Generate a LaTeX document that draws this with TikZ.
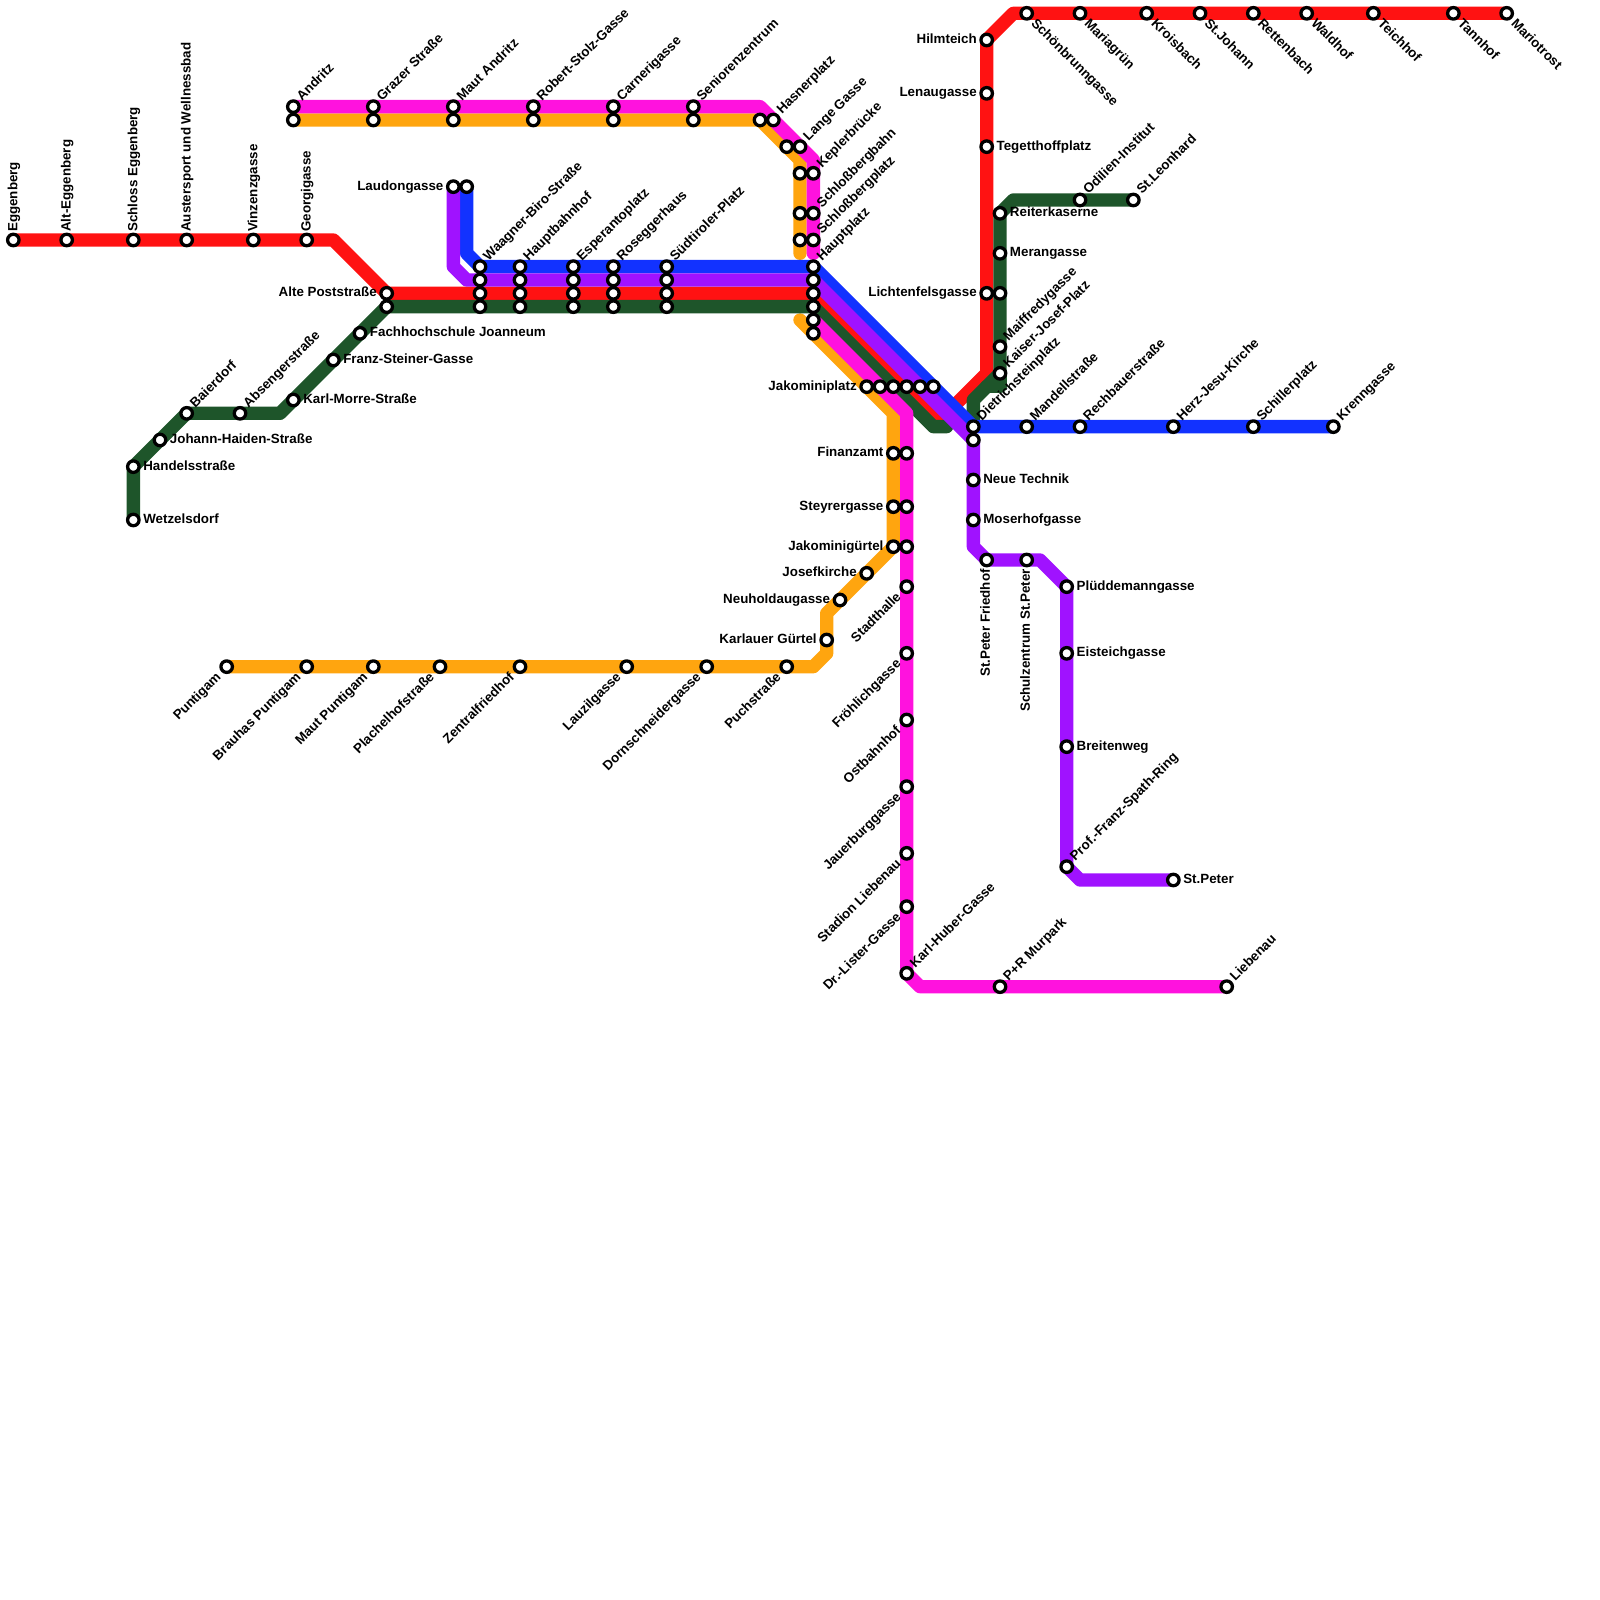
\documentclass[tikz,border=0pt]{standalone}
\usepackage{fontspec}
\setmainfont{Liberation Sans}
\usetikzlibrary{backgrounds,positioning}
\definecolor{linered}{RGB}{255,18,18}
\definecolor{linegreen}{RGB}{30,85,42}
\definecolor{lineorange}{RGB}{255,165,15}
\definecolor{linepink}{RGB}{255,18,222}
\definecolor{linepurple}{RGB}{160,18,255}
\definecolor{lineblue}{RGB}{18,50,255}

\begin{document}
\begin{tikzpicture}[
  x=0.2cm, y=-0.2cm,
  stn/.style={circle,draw=black,fill=white,line width=1.4pt,minimum size=4.9pt,inner sep=0pt},
  lab/.style={font=\bfseries\fontsize{5.7}{6}\selectfont,inner sep=0pt,outer sep=0pt,
    text height=4.1pt,text depth=1pt,text=black},
  stnr/.style={stn,label={[lab,anchor=west,label distance=1.1pt]0:#1}},
  stnl/.style={stn,label={[lab,anchor=east,label distance=1.1pt]180:#1}},
  stnne/.style={stn,label={[lab,xshift=0.4pt,rotate=45,anchor=west,label distance=1.1pt]45:#1}},
  stnse/.style={stn,label={[lab,xshift=0.5pt,yshift=-0.2pt,rotate=-45,anchor=west,label distance=1.1pt]-45:#1}},
  stnsw/.style={stn,label={[lab,xshift=-1.05pt,yshift=-0.4pt,rotate=45,anchor=east,label distance=1.1pt]225:#1}},
  stnup/.style={stn,label={[lab,xshift=1.28pt,yshift=0.4pt,rotate=90,anchor=west,label distance=1.1pt]90:#1}},
  stndn/.style={stn,label={[lab,xshift=-1.28pt,yshift=-0.8pt,rotate=90,anchor=east,label distance=1.1pt]270:#1}},
  metro/.style={line width=2mm,line cap=round,line join=round},
]
\useasboundingbox (0,0) rectangle (120,120);

% west red branch
\node[stnup={Eggenberg}] (eggenberg) at (1,18) {};
\node[stnup={Alt-Eggenberg}] (alteggenberg) at (5,18) {};
\node[stnup={Schloss Eggenberg}] (schloss) at (10,18) {};
\node[stnup={Austersport und Wellnessbad}] (austersport) at (14,18) {};
\node[stnup={Vinzenzgasse}] (vinzenz) at (19,18) {};
\node[stnup={Georgigasse}] (georgi) at (23,18) {};
\node[stnl={Alte Poststraße}] (altepost) at (29,22) {};
\node[stn] (altepostg) at (29,23) {};

% west green branch
\node[stnr={Wetzelsdorf}] (wetzelsdorf) at (10,39) {};
\node[stnr={Handelsstraße}] (handels) at (10,35) {};
\node[stnr={Johann-Haiden-Straße}] (haiden) at (12,33) {};
\node[stnne={Baierdorf}] (baierdorf) at (14,31) {};
\node[stnne={Absengerstraße}] (absenger) at (18,31) {};
\node[stnr={Karl-Morre-Straße}] (morre) at (22,30) {};
\node[stnr={Franz-Steiner-Gasse}] (steiner) at (25,27) {};
\node[stnr={Fachhochschule Joanneum}] (fachhoch) at (27,25) {};

% north pink and orange
\node[stnne={Andritz}] (andritz) at (22,8) {};
\node[stn] (andritzo) at (22,9) {};
\node[stnne={Grazer Straße}] (grazer) at (28,8) {};
\node[stn] (grazero) at (28,9) {};
\node[stnne={Maut Andritz}] (mautand) at (34,8) {};
\node[stn] (mautando) at (34,9) {};
\node[stnne={Robert-Stolz-Gasse}] (stolz) at (40,8) {};
\node[stn] (stolzo) at (40,9) {};
\node[stnne={Carnerigasse}] (carneri) at (46,8) {};
\node[stn] (carnerio) at (46,9) {};
\node[stnne={Seniorenzentrum}] (senioren) at (52,8) {};
\node[stn] (seniorens) at (52,9) {};
\node[stn] (hasnero) at (57,9) {};
\node[stnne={Hasnerplatz}] (hasner) at (58,9) {};
\node[stn] (langeo) at (59,11) {};
\node[stnne={Lange Gasse}] (lange) at (60,11) {};
\node[stn] (keplero) at (60,13) {};
\node[stnne={Keplerbrücke}] (kepler) at (61,13) {};
\node[stn] (bahno) at (60,16) {};
\node[stnne={Schloßbergbahn}] (bahn) at (61,16) {};
\node[stn] (bergo) at (60,18) {};
\node[stnne={Schloßbergplatz}] (berg) at (61,18) {};

% inner city stacks
\node[stnl={Laudongasse}] (laudong) at (34,14) {};
\node[stn] (laudongb) at (35,14) {};
\node[stnne={Waagner-Biro-Straße}] (waagner) at (36,20) {};
\node[stn] (waagnerb) at (36,21) {};
\node[stn] (waagnerc) at (36,22) {};
\node[stn] (waagnerd) at (36,23) {};
\node[stnne={Hauptbahnhof}] (hbf) at (39,20) {};
\node[stn] (hbfb) at (39,21) {};
\node[stn] (hbfc) at (39,22) {};
\node[stn] (hbfd) at (39,23) {};
\node[stnne={Esperantoplatz}] (esperanto) at (43,20) {};
\node[stn] (esperantob) at (43,21) {};
\node[stn] (esperantoc) at (43,22) {};
\node[stn] (esperantod) at (43,23) {};
\node[stnne={Roseggerhaus}] (rosegger) at (46,20) {};
\node[stn] (roseggerb) at (46,21) {};
\node[stn] (roseggerc) at (46,22) {};
\node[stn] (roseggerd) at (46,23) {};
\node[stnne={Südtiroler-Platz}] (suedtirol) at (50,20) {};
\node[stn] (suedtirolb) at (50,21) {};
\node[stn] (suedtirolc) at (50,22) {};
\node[stn] (suedtirold) at (50,23) {};
\node[stnne={Hauptplatz}] (haupt) at (61,20) {};
\node[stn] (hauptb) at (61,21) {};
\node[stn] (hauptc) at (61,22) {};
\node[stn] (hauptd) at (61,23) {};
\node[stn] (haupte) at (61,24) {};
\node[stn] (hauptf) at (61,25) {};
\node[stnl={Jakominiplatz}] (jakomini) at (65,29) {};
\node[stn] (jakominib) at (66,29) {};
\node[stn] (jakominic) at (67,29) {};
\node[stn] (jakominid) at (68,29) {};
\node[stn] (jakominie) at (69,29) {};
\node[stn] (jakominif) at (70,29) {};

% south orange
\node[stnl={Finanzamt}] (finanz) at (67,34) {};
\node[stn] (finanzp) at (68,34) {};
\node[stnl={Steyrergasse}] (steyrer) at (67,38) {};
\node[stn] (steyrerp) at (68,38) {};
\node[stnl={Jakominigürtel}] (guertel) at (67,41) {};
\node[stn] (guertelp) at (68,41) {};
\node[stnl={Josefkirche}] (josef) at (65,43) {};
\node[stnl={Neuholdaugasse}] (neuhold) at (63,45) {};
\node[stnl={Karlauer Gürtel}] (karlauer) at (62,48) {};
\node[stnsw={Puchstraße}] (puch) at (59,50) {};
\node[stnsw={Dornschneidergasse}] (dorn) at (53,50) {};
\node[stnsw={Lauzilgasse}] (lauzil) at (47,50) {};
\node[stnsw={Zentralfriedhof}] (zentral) at (39,50) {};
\node[stnsw={Plachelhofstraße}] (plachel) at (33,50) {};
\node[stnsw={Maut Puntigam}] (mautpunt) at (28,50) {};
\node[stnsw={Brauhas Puntigam}] (brauhaus) at (23,50) {};
\node[stnsw={Puntigam}] (puntigam) at (17,50) {};

% south pink
\node[stnsw={Stadthalle}] (stadthalle) at (68,44) {};
\node[stnsw={Fröhlichgasse}] (froehlich) at (68,49) {};
\node[stnsw={Ostbahnhof}] (ostbahn) at (68,54) {};
\node[stnsw={Jauerburggasse}] (jauer) at (68,59) {};
\node[stnsw={Stadion Liebenau}] (stadion) at (68,64) {};
\node[stnsw={Dr.-Lister-Gasse}] (lister) at (68,68) {};
\node[stnne={Karl-Huber-Gasse}] (huber) at (68,73) {};
\node[stnne={P+R Murpark}] (murpark) at (75,74) {};
\node[stnne={Liebenau}] (liebenau) at (92,74) {};

% east blue
\node[stnne={Dietrichsteinplatz}] (dietrich) at (73,32) {};
\node[stnne={Mandellstraße}] (mandell) at (77,32) {};
\node[stnne={Rechbauerstraße}] (rechbauer) at (81,32) {};
\node[stnne={Herz-Jesu-Kirche}] (herz) at (88,32) {};
\node[stnne={Schillerplatz}] (schiller) at (94,32) {};
\node[stnne={Krenngasse}] (krenn) at (100,32) {};

% east purple
\node[stn] (dietrichb) at (73,33) {};
\node[stnr={Neue Technik}] (technik) at (73,36) {};
\node[stnr={Moserhofgasse}] (moserhof) at (73,39) {};
\node[stndn={St.Peter Friedhof}] (friedhof) at (74,42) {};
\node[stndn={Schulzentrum St.Peter}] (schulz) at (77,42) {};
\node[stnr={Plüddemanngasse}] (plueddemann) at (80,44) {};
\node[stnr={Eisteichgasse}] (eisteich) at (80,49) {};
\node[stnr={Breitenweg}] (breitenweg) at (80,56) {};
\node[stnne={Prof.-Franz-Spath-Ring}] (spath) at (80,65) {};
\node[stnr={St.Peter}] (stpeter) at (88,66) {};

% east red
\node[stnl={Hilmteich}] (hilmteich) at (74,3) {};
\node[stnl={Lenaugasse}] (lenau) at (74,7) {};
\node[stnr={Tegetthoffplatz}] (tegetthoff) at (74,11) {};
\node[stnl={Lichtenfelsgasse}] (lichten) at (74,22) {};
\node[stnse={Schönbrunngasse}] (schoenbrunn) at (77,1) {};
\node[stnse={Mariagrün}] (mariagruen) at (81,1) {};
\node[stnse={Kroisbach}] (kroisbach) at (86,1) {};
\node[stnse={St.Johann}] (johann) at (90,1) {};
\node[stnse={Rettenbach}] (rettenbach) at (94,1) {};
\node[stnse={Waldhof}] (waldhof) at (98,1) {};
\node[stnse={Teichhof}] (teichhof) at (103,1) {};
\node[stnse={Tannhof}] (tannhof) at (109,1) {};
\node[stnse={Mariotrost}] (mariotrost) at (113,1) {};

% east green
\node[stnr={Reiterkaserne}] (reiter) at (75,16) {};
\node[stnr={Merangasse}] (meran) at (75,19) {};
\node[stn] (lichteng) at (75,22) {};
\node[stnne={Maiffredygasse}] (maiffredy) at (75,26) {};
\node[stnne={Kaiser-Josef-Platz}] (kaiser) at (75,28) {};
\node[stnne={Odilien-Institut}] (odilien) at (81,15) {};
\node[stnne={St.Leonhard}] (leonhard) at (85,15) {};

% bends
\coordinate (redw) at (25,18);
\coordinate (redj) at (70,31);
\coordinate (redk) at (71,31);
\coordinate (redl) at (74,28);
\coordinate (redn) at (76,1);
\coordinate (greenw) at (21,31);
\coordinate (greenj) at (70,32);
\coordinate (greenk) at (71,32);
\coordinate (greenl) at (75,29);
\coordinate (greenm) at (74,29);
\coordinate (greenn) at (73,30);
\coordinate (greeno) at (76,15);
\coordinate (orna) at (60,12);
\coordinate (ornb) at (60,19);
\coordinate (ornc) at (60,24);
\coordinate (ornd) at (67,31);
\coordinate (orne) at (62,46);
\coordinate (ornf) at (62,49);
\coordinate (orng) at (61,50);
\coordinate (pinka) at (57,8);
\coordinate (pinkb) at (61,12);
\coordinate (pinkc) at (61,19);
\coordinate (pinkd) at (68,31);
\coordinate (pinke) at (69,74);
\coordinate (pura) at (34,20);
\coordinate (purb) at (35,21);
\coordinate (purc) at (73,41);
\coordinate (purd) at (78,42);
\coordinate (pure) at (81,66);
\coordinate (blua) at (35,19);

\begin{pgfonlayer}{background}
\draw[metro,lineorange] (andritzo.center) -- (hasnero.center) -- (orna) -- (ornb);
\draw[metro,lineorange] (ornc) -- (ornd) -- (guertel.center) -- (orne) -- (ornf) -- (orng) -- (puntigam.center);
\draw[metro,linered] (eggenberg.center) -- (redw) -- (altepost.center) -- (hauptc.center) -- (redj) -- (redk) -- (redl) -- (hilmteich.center) -- (redn) -- (mariotrost.center);
\draw[metro,linegreen] (wetzelsdorf.center) -- (handels.center) -- (baierdorf.center) -- (greenw) -- (altepostg.center) -- (hauptd.center) -- (greenj) -- (greenk);
\draw[metro,linegreen] (leonhard.center) -- (greeno) -- (reiter.center) -- (kaiser.center) -- (greenn) -- (dietrich.center);
\draw[metro,linegreen] (kaiser.center) -- (greenl) -- (greenm);
\draw[metro,lineblue] (laudongb.center) -- (blua) -- (waagner.center) -- (haupt.center) -- (dietrich.center) -- (krenn.center);
\draw[metro,linepink] (andritz.center) -- (pinka) -- (pinkb) -- (pinkc);
\draw[metro,linepink] (haupte.center) -- (pinkd) -- (huber.center) -- (pinke) -- (liebenau.center);
\draw[metro,linepurple] (laudong.center) -- (pura) -- (purb) -- (hauptb.center) -- (dietrichb.center) -- (purc) -- (friedhof.center) -- (purd) -- (plueddemann.center) -- (spath.center) -- (pure) -- (stpeter.center);
\end{pgfonlayer}
\end{tikzpicture}
\end{document}
